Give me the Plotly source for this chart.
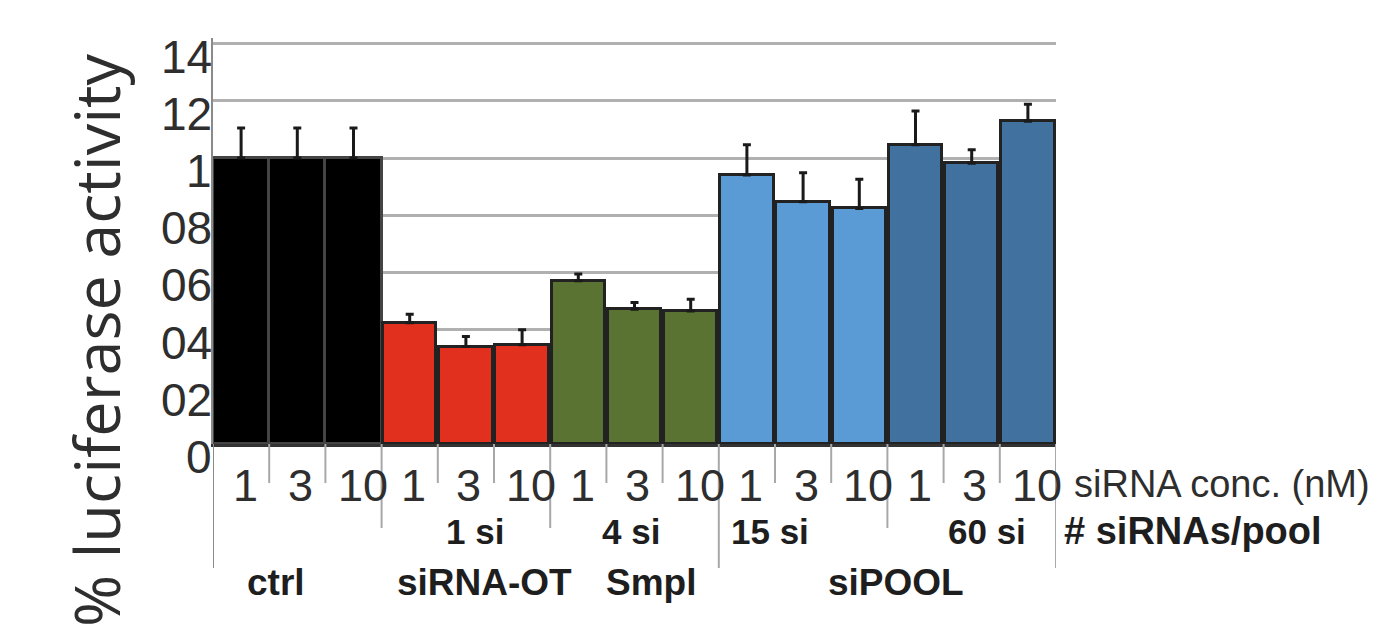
import plotly.graph_objects as go

# ---------------- data ----------------
conc_labels = ["1", "3", "10", "1", "3", "10", "1", "3", "10",
               "1", "3", "10", "1", "3", "10"]
values = [1.00, 1.00, 1.00,
          0.424, 0.341, 0.347,
          0.571, 0.471, 0.465,
          0.941, 0.847, 0.824,
          1.047, 0.982, 1.129]
errors = [0.105, 0.105, 0.105,
          0.030, 0.035, 0.053,
          0.024, 0.024, 0.041,
          0.106, 0.102, 0.102,
          0.118, 0.047, 0.059]
pool_labels = ["", "1 si", "4 si", "15 si", "60 si"]     # siRNAs per pool row
pool_sizes = [3, 3, 3, 3, 3]
method_labels = ["ctrl", "siRNA-OT", "Smpl", "siPOOL"]
method_sizes = [3, 3, 3, 6]
outer_sizes = [9, 6]
ytick_vals = [0, 0.2, 0.4, 0.6, 0.8, 1.0, 1.2, 1.4]
ytick_text = ["0", "02", "04", "06", "08", "1", "12", "14"]

# ---------------- styles ----------------
group_colors = ["#000000", "#e2301f", "#5a7232", "#5b9bd5", "#41719f"]
group_line = ["#444444", "#222222", "#222222", "#222222", "#222222"]
group_width = [1.0, 0.95, 0.95, 0.95, 0.95]
pool_xshift = [0, 9, -4, -33, 15]
method_xshift = [-21, 19, 16, 9]
conc_xshift = {"1": 4, "3": 3, "10": 9}
text_color = "#2e2e2e"
bold_color = "#1e1e1e"
tick_line = "#a8a8a8"
LAB_FONT = "Liberation Sans, Arial, sans-serif"

n = len(values)
xs = list(range(n))
bar_colors, bar_lines, bar_widths = [], [], []
for g, s in enumerate(pool_sizes):
    bar_colors += [group_colors[g]] * s
    bar_lines += [group_line[g]] * s
    bar_widths += [group_width[g]] * s

fig = go.Figure()
fig.add_trace(go.Bar(
    x=xs, y=values, width=bar_widths,
    marker=dict(color=bar_colors, line=dict(color=bar_lines, width=3)),
    error_y=dict(type="data", array=errors, arrayminus=[0] * n, symmetric=False,
                 color="#1a1a1a", thickness=3, width=4),
    showlegend=False,
))

# page has an 8px body margin; figure is 1374x632 placed at (8, 8)
OFF = 8
FW, FH = 1382 - OFF, 640 - OFF
X0, X1 = 213, 1056          # plot area, page pixels
Y_TOP, Y0 = 38, 444          # y=1.42 and y=0, page pixels
YMAX = 1.42
L, R = X0 - OFF, FW - (X1 - OFF)
T, B = Y_TOP - OFF, FH - (Y0 - OFF)
PH = Y0 - Y_TOP
PW = X1 - X0


def py(p):
    return (Y0 - p) / PH


def px(p):
    return (p - X0) / PW


ann = []
# y tick labels
for v, t in zip(ytick_vals, ytick_text):
    ann.append(dict(x=0, xref="paper", y=v, yref="y", text=t, showarrow=False,
                    xanchor="right", yanchor="middle", xshift=1, yshift=-13,
                    font=dict(family=LAB_FONT, size=46, color=text_color)))
# concentration labels
for i, t in enumerate(conc_labels):
    ann.append(dict(x=i, xref="x", y=py(485), yref="paper", text=t, showarrow=False,
                    xanchor="center", yanchor="middle", xshift=conc_xshift[t],
                    font=dict(family=LAB_FONT, size=45, color=text_color)))
# pool size row
start = 0
for t, s, sh in zip(pool_labels, pool_sizes, pool_xshift):
    if t:
        ann.append(dict(x=start + (s - 1) / 2, xref="x", y=py(531), yref="paper",
                        text="<b>" + t + "</b>", showarrow=False, xanchor="center",
                        yanchor="middle", xshift=sh,
                        font=dict(family=LAB_FONT, size=35, color=bold_color)))
    start += s
# method row
start = 0
for t, s, sh in zip(method_labels, method_sizes, method_xshift):
    ann.append(dict(x=start + (s - 1) / 2, xref="x", y=py(582), yref="paper",
                    text="<b>" + t + "</b>", showarrow=False, xanchor="center",
                    yanchor="middle", xshift=sh,
                    font=dict(family=LAB_FONT, size=37, color=bold_color)))
    start += s
# row captions on the right
ann.append(dict(x=px(1072), xref="paper", y=py(484), yref="paper",
                text="siRNA conc. (nM)", showarrow=False, xanchor="left",
                yanchor="middle",
                font=dict(family=LAB_FONT, size=38, color=text_color)))
ann.append(dict(x=px(1062), xref="paper", y=py(531), yref="paper",
                text="<b># siRNAs/pool</b>", showarrow=False, xanchor="left",
                yanchor="middle",
                font=dict(family=LAB_FONT, size=38, color=bold_color)))
# y axis title
ann.append(dict(x=px(95), xref="paper", y=py(340), yref="paper",
                text="% luciferase activity", showarrow=False, textangle=-90,
                xanchor="center", yanchor="middle",
                font=dict(family="Open Sans", size=63, color=text_color)))

# category divider lines below the axis
shapes = []
pool_bounds = set()
acc = 0
for s in pool_sizes[:-1]:
    acc += s
    pool_bounds.add(acc - 0.5)
outer_bounds = {-0.5, n - 0.5}
acc = 0
for s in outer_sizes[:-1]:
    acc += s
    outer_bounds.add(acc - 0.5)
for k in range(n + 1):
    b = k - 0.5
    if b in outer_bounds:
        bottom = 568
    elif b in pool_bounds:
        bottom = 528
    else:
        bottom = 483
    shapes.append(dict(type="line", xref="x", yref="paper", x0=b, x1=b,
                       y0=0, y1=py(bottom),
                       line=dict(color="#8a8a8a" if b == -0.5 else tick_line, width=2)))

fig.update_layout(
    width=FW, height=FH,
    margin=dict(l=L, r=R, t=T, b=B, pad=0),
    paper_bgcolor="white", plot_bgcolor="white",
    bargap=0,
    annotations=ann, shapes=shapes,
    xaxis=dict(range=[-0.5, n - 0.5], showticklabels=False, ticks="",
               showgrid=False, zeroline=False, showline=True,
               linecolor="#333333", linewidth=2.5),
    yaxis=dict(range=[0, YMAX], tickvals=ytick_vals, showticklabels=False,
               ticks="", showgrid=True, gridcolor="#b0b0b0", gridwidth=3,
               zeroline=False, showline=True, linecolor="#8a8a8a", linewidth=2),
)

fig.write_html("out.html")
